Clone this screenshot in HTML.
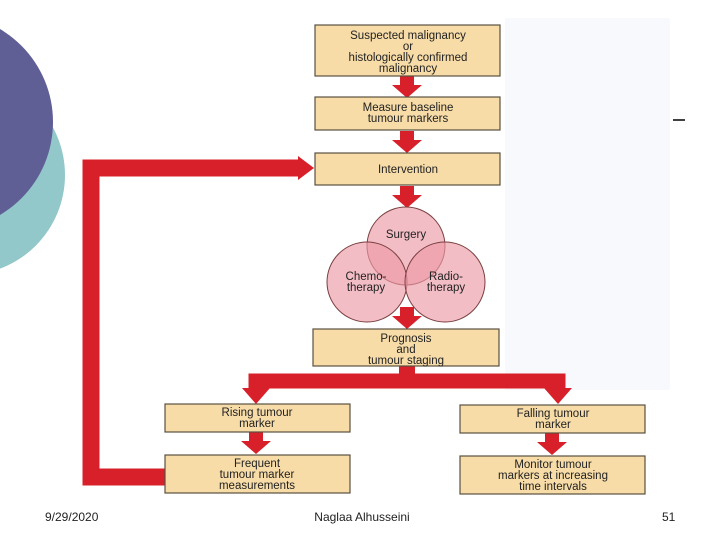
<!DOCTYPE html>
<html><head><style>
body{margin:0;width:720px;height:540px;overflow:hidden;background:#fff;font-family:"Liberation Sans",sans-serif}
svg{position:absolute;left:0;top:0}
</style></head><body>
<svg width="720" height="540" viewBox="0 0 720 540" font-family="Liberation Sans, sans-serif">
<defs>
<g id="arr"><polygon points="-7,0 7,0 7,9 15,9 0,22 -15,9 -7,9" fill="#d8202a"/></g>
</defs>
<rect x="505" y="18" width="165" height="372" fill="#f7f9fc"/>
<circle cx="-35" cy="175" r="100" fill="#93c8cb"/>
<circle cx="-55" cy="122" r="108" fill="#5f5f96"/>
<line x1="673" y1="120" x2="685" y2="120" stroke="#000" stroke-width="1.5"/>
<path d="M173,477 H91 V168 H300" fill="none" stroke="#d8202a" stroke-width="17"/>
<polygon points="298,156 314,168 298,180" fill="#d8202a"/>
<use href="#arr" x="407" y="76"/>
<use href="#arr" x="407" y="131"/>
<use href="#arr" x="407" y="186"/>
<use href="#arr" x="407" y="307"/>
<rect x="399" y="365" width="16" height="15" fill="#d8202a"/>
<path d="M256,395 V381 H558 V395" fill="none" stroke="#d8202a" stroke-width="15"/>
<polygon points="242,388 270,388 256,404" fill="#d8202a"/>
<polygon points="544,388 572,388 558,404" fill="#d8202a"/>
<use href="#arr" x="256" y="432"/>
<use href="#arr" x="552" y="433"/>
<g fill="#f7dca8" stroke="#5a5040" stroke-width="1.2">
<rect x="315" y="25" width="185" height="51"/>
<rect x="315" y="97" width="185" height="33"/>
<rect x="315" y="153" width="185" height="32"/>
<rect x="313" y="329" width="186" height="37"/>
<rect x="165" y="404" width="185" height="28"/>
<rect x="460" y="405" width="185" height="28"/>
<rect x="165" y="455" width="185" height="38"/>
<rect x="460" y="456" width="185" height="38"/>
</g>
<g fill="#fff">
<circle cx="406" cy="246" r="39"/>
<circle cx="367" cy="282" r="40"/>
<circle cx="445" cy="282" r="40"/>
</g>
<g fill="#ec9aa6" fill-opacity="0.65" stroke="#7a4040" stroke-width="1">
<circle cx="406" cy="246" r="39"/>
<circle cx="367" cy="282" r="40"/>
<circle cx="445" cy="282" r="40"/>
</g>
<g font-size="11.5" fill="#222" text-anchor="middle">
<text x="408" y="39">Suspected malignancy</text>
<text x="408" y="50">or</text>
<text x="408" y="61">histologically confirmed</text>
<text x="408" y="72">malignancy</text>
<text x="408" y="111">Measure baseline</text>
<text x="408" y="122">tumour markers</text>
<text x="408" y="173">Intervention</text>
<text x="406" y="238">Surgery</text>
<text x="366" y="280">Chemo-</text>
<text x="366" y="291">therapy</text>
<text x="446" y="280">Radio-</text>
<text x="446" y="291">therapy</text>
<text x="406" y="342">Prognosis</text>
<text x="406" y="353">and</text>
<text x="406" y="364">tumour staging</text>
<text x="257" y="416">Rising tumour</text>
<text x="257" y="427">marker</text>
<text x="553" y="417">Falling tumour</text>
<text x="553" y="428">marker</text>
<text x="257" y="467">Frequent</text>
<text x="257" y="478">tumour marker</text>
<text x="257" y="489">measurements</text>
<text x="553" y="468">Monitor tumour</text>
<text x="553" y="479">markers at increasing</text>
<text x="553" y="490">time intervals</text>
</g>
<g font-size="12" fill="#222">
<text x="45" y="521">9/29/2020</text>
<text x="362" y="521" text-anchor="middle">Naglaa Alhusseini</text>
<text x="662" y="521">51</text>
</g>
</svg>
</body></html>
